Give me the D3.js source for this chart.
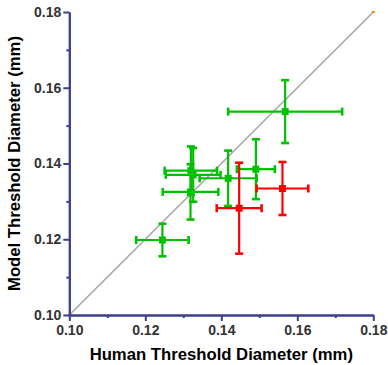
<!DOCTYPE html>
<html>
<head>
<meta charset="utf-8">
<script src="https://cdn.jsdelivr.net/npm/d3@7"></script>
<style>
  body { margin: 0; background: #fff; }
  svg text { font-family: Arial, "Liberation Sans", sans-serif; font-weight: bold; }
</style>
</head>
<body>
<svg id="chart"></svg>
<script>
const width = 388;
const height = 365;

// human (x) and model (y) threshold diameters, mm, with error half-widths
const greenHuman    = [0.1245, 0.1319, 0.1320, 0.1326, 0.1418, 0.1491, 0.1568];
const greenHumanErr = [0.0069, 0.0073, 0.0069, 0.0072, 0.0075, 0.0050, 0.0150];
const greenModel    = [0.1198, 0.1325, 0.1381, 0.1370, 0.1361, 0.1385, 0.1537];
const greenModelErr = [0.0043, 0.0073, 0.0064, 0.0071, 0.0073, 0.0079, 0.0083];

const redHuman    = [0.1447, 0.1561];
const redHumanErr = [0.0059, 0.0068];
const redModel    = [0.1282, 0.1334];
const redModelErr = [0.0120, 0.0070];

const majorTicks = [0.10, 0.12, 0.14, 0.16, 0.18];
const minorTicks = [0.11, 0.13, 0.15, 0.17];
const unityLine = [0.10, 0.18];

let svg = d3.select("#chart")
            .attr("width", width)
            .attr("height", height);

let x = d3.scaleLinear().domain([0.10, 0.18]).range([69.3, 373.3]);
let y = d3.scaleLinear().domain([0.10, 0.18]).range([315, 12]);

const axisColor = "#3b3f8e";

// diagonal y = x line
svg.append("line")
   .attr("x1", x(unityLine[0])).attr("y1", y(unityLine[0]))
   .attr("x2", x(unityLine[1])).attr("y2", y(unityLine[1]))
   .attr("stroke", "#a8a8a8")
   .attr("stroke-width", 1.6);

// tiny orange markers at the ends of the line
svg.selectAll(".endmark")
   .data(unityLine)
   .enter()
   .append("rect")
   .attr("x", d => x(d) - 1.5)
   .attr("y", d => y(d) - 1)
   .attr("width", 3)
   .attr("height", 2)
   .attr("fill", "#ff8a1c");

// axes: major ticks with labels, minor ticks without
function styleAxis(g) {
  g.selectAll("path, line").attr("stroke", axisColor).attr("stroke-width", 2);
  g.selectAll("text").attr("fill", "#333").style("font-size", "14px");
}

svg.append("g")
   .attr("transform", "translate(0,315)")
   .call(d3.axisBottom(x).tickValues(majorTicks).tickSize(6).tickSizeOuter(0)
           .tickPadding(4).tickFormat(d3.format(".2f")))
   .call(styleAxis);
svg.append("g")
   .attr("transform", "translate(0,315)")
   .call(d3.axisBottom(x).tickValues(minorTicks).tickSize(3).tickSizeOuter(0).tickFormat(""))
   .call(styleAxis);

svg.append("g")
   .attr("transform", "translate(69.3,0)")
   .call(d3.axisLeft(y).tickValues(majorTicks).tickSize(6).tickSizeOuter(0)
           .tickPadding(2).tickFormat(d3.format(".2f")))
   .call(styleAxis);
svg.append("g")
   .attr("transform", "translate(69.3,0)")
   .call(d3.axisLeft(y).tickValues(minorTicks).tickSize(3).tickSizeOuter(0).tickFormat(""))
   .call(styleAxis);

// axis titles
svg.append("text")
   .attr("x", 221.3)
   .attr("y", 360)
   .attr("text-anchor", "middle")
   .style("font-size", "16.7px")
   .attr("fill", "#000")
   .text("Human Threshold Diameter (mm)");

svg.append("text")
   .attr("transform", "translate(20,163.5) rotate(-90)")
   .attr("text-anchor", "middle")
   .style("font-size", "16.7px")
   .attr("fill", "#000")
   .text("Model Threshold Diameter (mm)");

// error bar crosses with square markers
function drawSeries(xs, xe, ys, ye, color) {
  let pts = xs.map((d, i) => ({hx: d, hxe: xe[i], my: ys[i], mye: ye[i]}));
  let g = svg.append("g")
             .attr("stroke", color)
             .attr("stroke-width", 2.2)
             .attr("fill", "none");
  const cap = 4;

  let pt = g.selectAll("g").data(pts).enter().append("g");

  // horizontal bar
  pt.append("line")
    .attr("x1", d => x(d.hx - d.hxe)).attr("x2", d => x(d.hx + d.hxe))
    .attr("y1", d => y(d.my)).attr("y2", d => y(d.my));
  // vertical bar
  pt.append("line")
    .attr("x1", d => x(d.hx)).attr("x2", d => x(d.hx))
    .attr("y1", d => y(d.my - d.mye)).attr("y2", d => y(d.my + d.mye));
  // caps
  pt.append("line")
    .attr("x1", d => x(d.hx - d.hxe)).attr("x2", d => x(d.hx - d.hxe))
    .attr("y1", d => y(d.my) - cap).attr("y2", d => y(d.my) + cap)
    .attr("stroke-width", 2.6);
  pt.append("line")
    .attr("x1", d => x(d.hx + d.hxe)).attr("x2", d => x(d.hx + d.hxe))
    .attr("y1", d => y(d.my) - cap).attr("y2", d => y(d.my) + cap)
    .attr("stroke-width", 2.6);
  pt.append("line")
    .attr("x1", d => x(d.hx) - cap).attr("x2", d => x(d.hx) + cap)
    .attr("y1", d => y(d.my - d.mye)).attr("y2", d => y(d.my - d.mye))
    .attr("stroke-width", 2.6);
  pt.append("line")
    .attr("x1", d => x(d.hx) - cap).attr("x2", d => x(d.hx) + cap)
    .attr("y1", d => y(d.my + d.mye)).attr("y2", d => y(d.my + d.mye))
    .attr("stroke-width", 2.6);
  // square marker
  pt.append("rect")
    .attr("x", d => x(d.hx) - 3.5)
    .attr("y", d => y(d.my) - 3.5)
    .attr("width", 7)
    .attr("height", 7)
    .attr("fill", color)
    .attr("stroke", "none");
}

drawSeries(greenHuman, greenHumanErr, greenModel, greenModelErr, "#00c000");
drawSeries(redHuman, redHumanErr, redModel, redModelErr, "#ff0000");
</script>
</body>
</html>
